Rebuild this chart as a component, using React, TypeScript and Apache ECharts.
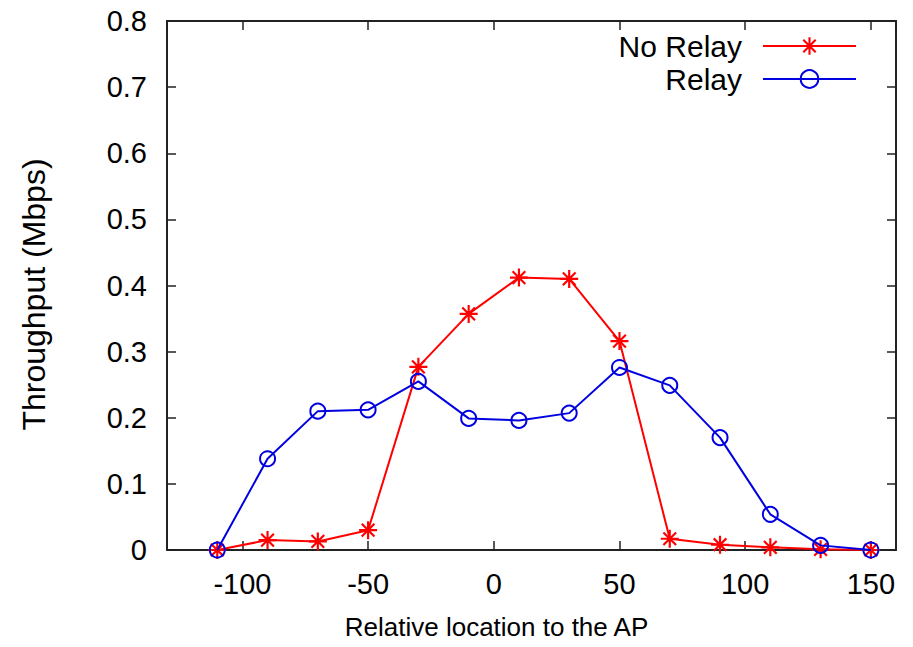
import React, { useEffect, useRef } from "react";
import * as echarts from "echarts";

const locations = [-110, -90, -70, -50, -30, -10, 10, 30, 50, 70, 90, 110, 130, 150];
const noRelay = [0, 0.015, 0.013, 0.03, 0.277, 0.357, 0.412, 0.41, 0.316, 0.017, 0.008, 0.004, 0.001, 0];
const relay = [0, 0.138, 0.21, 0.212, 0.255, 0.199, 0.196, 0.207, 0.276, 0.249, 0.17, 0.054, 0.007, 0];
const xTickValues = [-100, -50, 0, 50, 100, 150];

const STAR =
  "path://M-1.2,-10 L1.2,-10 L1.2,10 L-1.2,10 Z " +
  "M-10,-1.2 L10,-1.2 L10,1.2 L-10,1.2 Z " +
  "M-6.2,-7.9 L7.9,6.2 L6.2,7.9 L-7.9,-6.2 Z " +
  "M7.9,-6.2 L-6.2,7.9 L-7.9,6.2 L6.2,-7.9 Z";

const FONT = "Liberation Sans, Arial, Helvetica, sans-serif";

export default function App() {
  const ref = useRef<HTMLDivElement>(null);
  useEffect(() => {
    if (!ref.current) return;
    const chart = echarts.init(ref.current, undefined, { renderer: "svg" });
    const axisLine = { show: true, onZero: false, lineStyle: { color: "#222", width: 2 } };
    const tick = { show: true, inside: true, length: 9, lineStyle: { color: "#222", width: 1.5 } };
    chart.setOption({
      animation: false,
      backgroundColor: "#fff",
      grid: { left: 167, top: 21, right: 17, bottom: 97, containLabel: false },
      legend: {
        orient: "vertical",
        align: "right",
        right: 51,
        top: 26,
        itemWidth: 93,
        itemHeight: 22,
        itemGap: 3,
        textStyle: {
          fontFamily: FONT,
          fontSize: 30,
          lineHeight: 30,
          color: "#000",
          padding: [0, 16, 0, 0],
        },
        data: ["No Relay", "Relay"],
      },
      xAxis: [
        {
          type: "value",
          min: -130,
          max: 160,
          splitNumber: 5,
          position: "bottom",
          axisLine,
          axisTick: tick,
          splitLine: { show: false },
          axisLabel: {
            fontFamily: FONT,
            fontSize: 29,
            color: "#000",
            margin: 19,
            showMinLabel: false,
            showMaxLabel: false,
            formatter: (v: number) => (xTickValues.includes(v) ? String(v) : ""),
          },
          name: "Relative location to the AP",
          nameLocation: "middle",
          nameGap: 64,
          nameTextStyle: { fontFamily: FONT, fontSize: 26, color: "#000", padding: [0, 70, 0, 0] },
        },
        {
          type: "value",
          min: -130,
          max: 160,
          splitNumber: 5,
          position: "top",
          axisLine,
          axisTick: tick,
          splitLine: { show: false },
          axisLabel: { show: false },
        },
      ],
      yAxis: [
        {
          type: "value",
          min: 0,
          max: 0.8,
          interval: 0.1,
          position: "left",
          axisLine,
          axisTick: tick,
          splitLine: { show: false },
          axisLabel: {
            fontFamily: FONT,
            fontSize: 29,
            color: "#000",
            margin: 20,
            formatter: (v: number) => (Math.abs(v) < 1e-9 ? "0" : v.toFixed(1)),
          },
          name: "Throughput (Mbps)",
          nameLocation: "middle",
          nameGap: 117,
          nameTextStyle: { fontFamily: FONT, fontSize: 32, color: "#000", padding: [0, 18, 0, 0] },
        },
        {
          type: "value",
          min: 0,
          max: 0.8,
          interval: 0.1,
          position: "right",
          axisLine,
          axisTick: tick,
          splitLine: { show: false },
          axisLabel: { show: false },
        },
      ],
      series: [
        {
          name: "No Relay",
          type: "line",
          data: locations.map((x, i) => [x, noRelay[i]]),
          symbol: STAR,
          symbolSize: 18,
          showAllSymbol: true,
          lineStyle: { color: "#ff0000", width: 2 },
          itemStyle: { color: "#ff0000" },
          z: 2,
        },
        {
          name: "Relay",
          type: "line",
          data: locations.map((x, i) => [x, relay[i]]),
          symbol: "circle",
          symbolSize: 15,
          showAllSymbol: true,
          lineStyle: { color: "#0000e0", width: 2 },
          itemStyle: { color: "rgba(0,0,0,0)", borderColor: "#0000e0", borderWidth: 2 },
          z: 3,
        },
      ],
    });
    return () => chart.dispose();
  }, []);
  return <div ref={ref} style={{ width: 913, height: 647, position: "absolute", left: 0, top: 0 }} />;
}
